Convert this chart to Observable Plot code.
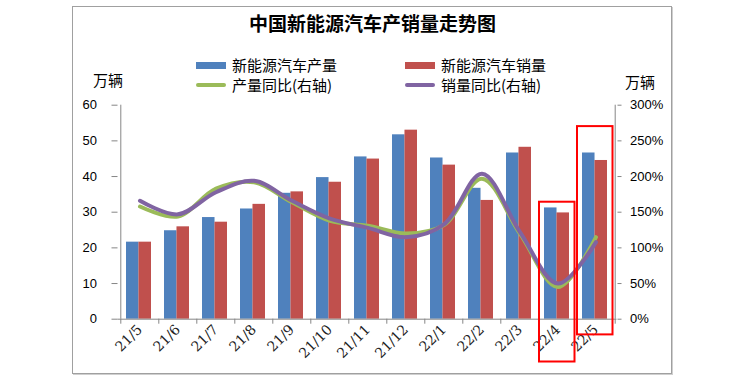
<!DOCTYPE html>
<html><head><meta charset="utf-8">
<script src="https://cdn.jsdelivr.net/npm/d3@7"></script>
<script src="https://cdn.jsdelivr.net/npm/@observablehq/plot@0.6"></script>
<style>
html,body{margin:0;padding:0;background:#fff;}
body{width:750px;height:383px;position:relative;overflow:hidden;font-family:"Noto Sans CJK SC","Noto Sans",sans-serif;color:#000;}
#frame{position:absolute;left:72px;top:6px;width:598px;height:366px;border:1px solid #a0a0a0;box-shadow:1px 1px 0 #cfcfcf;}
#chart{position:absolute;left:0;top:0;}
#title{position:absolute;left:73px;width:599px;top:11px;text-align:center;font-weight:bold;font-size:19px;line-height:24px;}
.leg{position:absolute;font-size:15px;line-height:18px;height:18px;display:flex;align-items:center;white-space:nowrap;}
.sw{display:inline-block;width:30px;margin-right:6px;}
.unit{position:absolute;font-size:15px;line-height:18px;}
</style></head><body>
<div id="frame"></div>
<div id="chart"></div>
<div id="title">中国新能源汽车产销量走势图</div>
<div class="unit" style="left:93px;top:71px">万辆</div>
<div class="unit" style="left:625px;top:73px">万辆</div>
<div id="legend"></div>
<script>
const months = ["21/5","21/6","21/7","21/8","21/9","21/10","21/11","21/12","22/1","22/2","22/3","22/4","22/5"];
const production = [21.6,24.8,28.5,30.9,35.3,39.7,45.5,51.7,45.2,36.7,46.6,31.2,46.6];
const sales = [21.6,25.9,27.2,32.2,35.7,38.4,44.9,53.0,43.2,33.3,48.2,29.8,44.5];
const productionYoY = [158,144,183,192,164,138,131,120,132,197,120,45,115];
const salesYoY = [166,147,178,194,166,141,128,115,133,204,122,50,108];
const leftTicks = [0,10,20,30,40,50,60];
const rightTicks = [0,50,100,150,200,250,300];
const seriesNames = ["新能源汽车产量","新能源汽车销量","产量同比(右轴)","销量同比(右轴)"];
const seriesColors = ["#4F81BD","#C0504D","#9BBB59","#8064A2"];
const highlightMonths = ["22/4","22/5"];
const highlightTop = [32.8, 54.0];
const highlightBottom = [-12.0, -4.4];

const W = 750, H = 383;
const mL = 117.5, mR = 133.5, mT = 104.7, mB = 64.3;
const pIn = 0.35, pOut = 0.175;
const step = (W - mL - mR) / months.length;
const bw = step * (1 - pIn);
const ratio = 5; // right axis % per left-axis unit

const barsP = months.map((m, i) => ({m, v: production[i]}));
const barsS = months.map((m, i) => ({m, v: sales[i]}));
const lineP = months.map((m, i) => ({m, v: productionYoY[i] / ratio}));
const lineS = months.map((m, i) => ({m, v: salesYoY[i] / ratio}));
const boxes = highlightMonths.map((m, i) => ({m, y1: highlightBottom[i], y2: highlightTop[i]}));
const axisColor = "#868686";

const chart = Plot.plot({
  width: W, height: H,
  marginLeft: mL, marginRight: mR, marginTop: mT, marginBottom: mB,
  style: {fontFamily: "'Liberation Sans', Arial, sans-serif", fontSize: "13px", color: "#000", background: "transparent", overflow: "visible"},
  x: {type: "band", domain: months, paddingInner: pIn, paddingOuter: pOut, axis: null, label: null},
  y: {domain: [0, 60], axis: null, label: null},
  marks: [
    Plot.barY(barsP, {x: "m", y: "v", fill: seriesColors[0], insetRight: bw / 2, dx: -1}),
    Plot.barY(barsS, {x: "m", y: "v", fill: seriesColors[1], insetLeft: bw / 2, dx: -1}),
    Plot.ruleY([0], {stroke: axisColor}),
    Plot.ruleX([months[0]], {y1: 0, y2: 60, dx: -step / 2, stroke: axisColor}),
    Plot.ruleX([months[months.length - 1]], {y1: 0, y2: 60, dx: step / 2, stroke: axisColor}),
    Plot.axisY(leftTicks, {anchor: "left", label: null, tickSize: 6, tickPadding: 15, stroke: axisColor, fill: "#000", fontSize: 13}),
    Plot.axisY(rightTicks.map(d => d / ratio), {anchor: "right", label: null, tickSize: 4, tickPadding: 9, tickFormat: d => Math.round(d * ratio) + "%", stroke: axisColor, fill: "#000", fontSize: 13}),
    Plot.axisX(months, {anchor: "bottom", label: null, tickSize: 5, tickFormat: () => "", dx: -step / 2, stroke: axisColor}),
    Plot.axisX([months[months.length - 1]], {anchor: "bottom", label: null, tickSize: 5, tickFormat: () => "", dx: step / 2, stroke: axisColor}),
    Plot.axisX(months, {anchor: "bottom", label: null, tickSize: 0, tickPadding: 8, tickRotate: -45, fill: "#222", fontSize: 14, fontFamily: "'DejaVu Serif', serif"}),
    Plot.lineY(lineP, {x: "m", y: "v", stroke: seriesColors[2], strokeWidth: 4, curve: "catmull-rom", strokeLinecap: "round"}),
    Plot.lineY(lineS, {x: "m", y: "v", stroke: seriesColors[3], strokeWidth: 4, curve: "catmull-rom", strokeLinecap: "round"}),
    Plot.barY(boxes, {x: "m", y1: "y1", y2: "y2", fill: "none", stroke: "#ff0000", strokeWidth: 2, insetLeft: -6, insetRight: -4.5})
  ]
});
document.getElementById("chart").appendChild(chart);

// legend
const legend = document.getElementById("legend");
const legPos = [[196, 56], [405, 56], [196, 76], [405, 76]];
seriesNames.forEach((name, i) => {
  const item = document.createElement("div");
  item.className = "leg";
  item.style.left = legPos[i][0] + "px";
  item.style.top = legPos[i][1] + "px";
  const sw = document.createElement("span");
  sw.className = "sw";
  sw.style.background = seriesColors[i];
  sw.style.height = i < 2 ? "7px" : "4px";
  if (i >= 2) sw.style.borderRadius = "2px";
  item.appendChild(sw);
  item.appendChild(document.createTextNode(name));
  legend.appendChild(item);
});
</script>
</body></html>
